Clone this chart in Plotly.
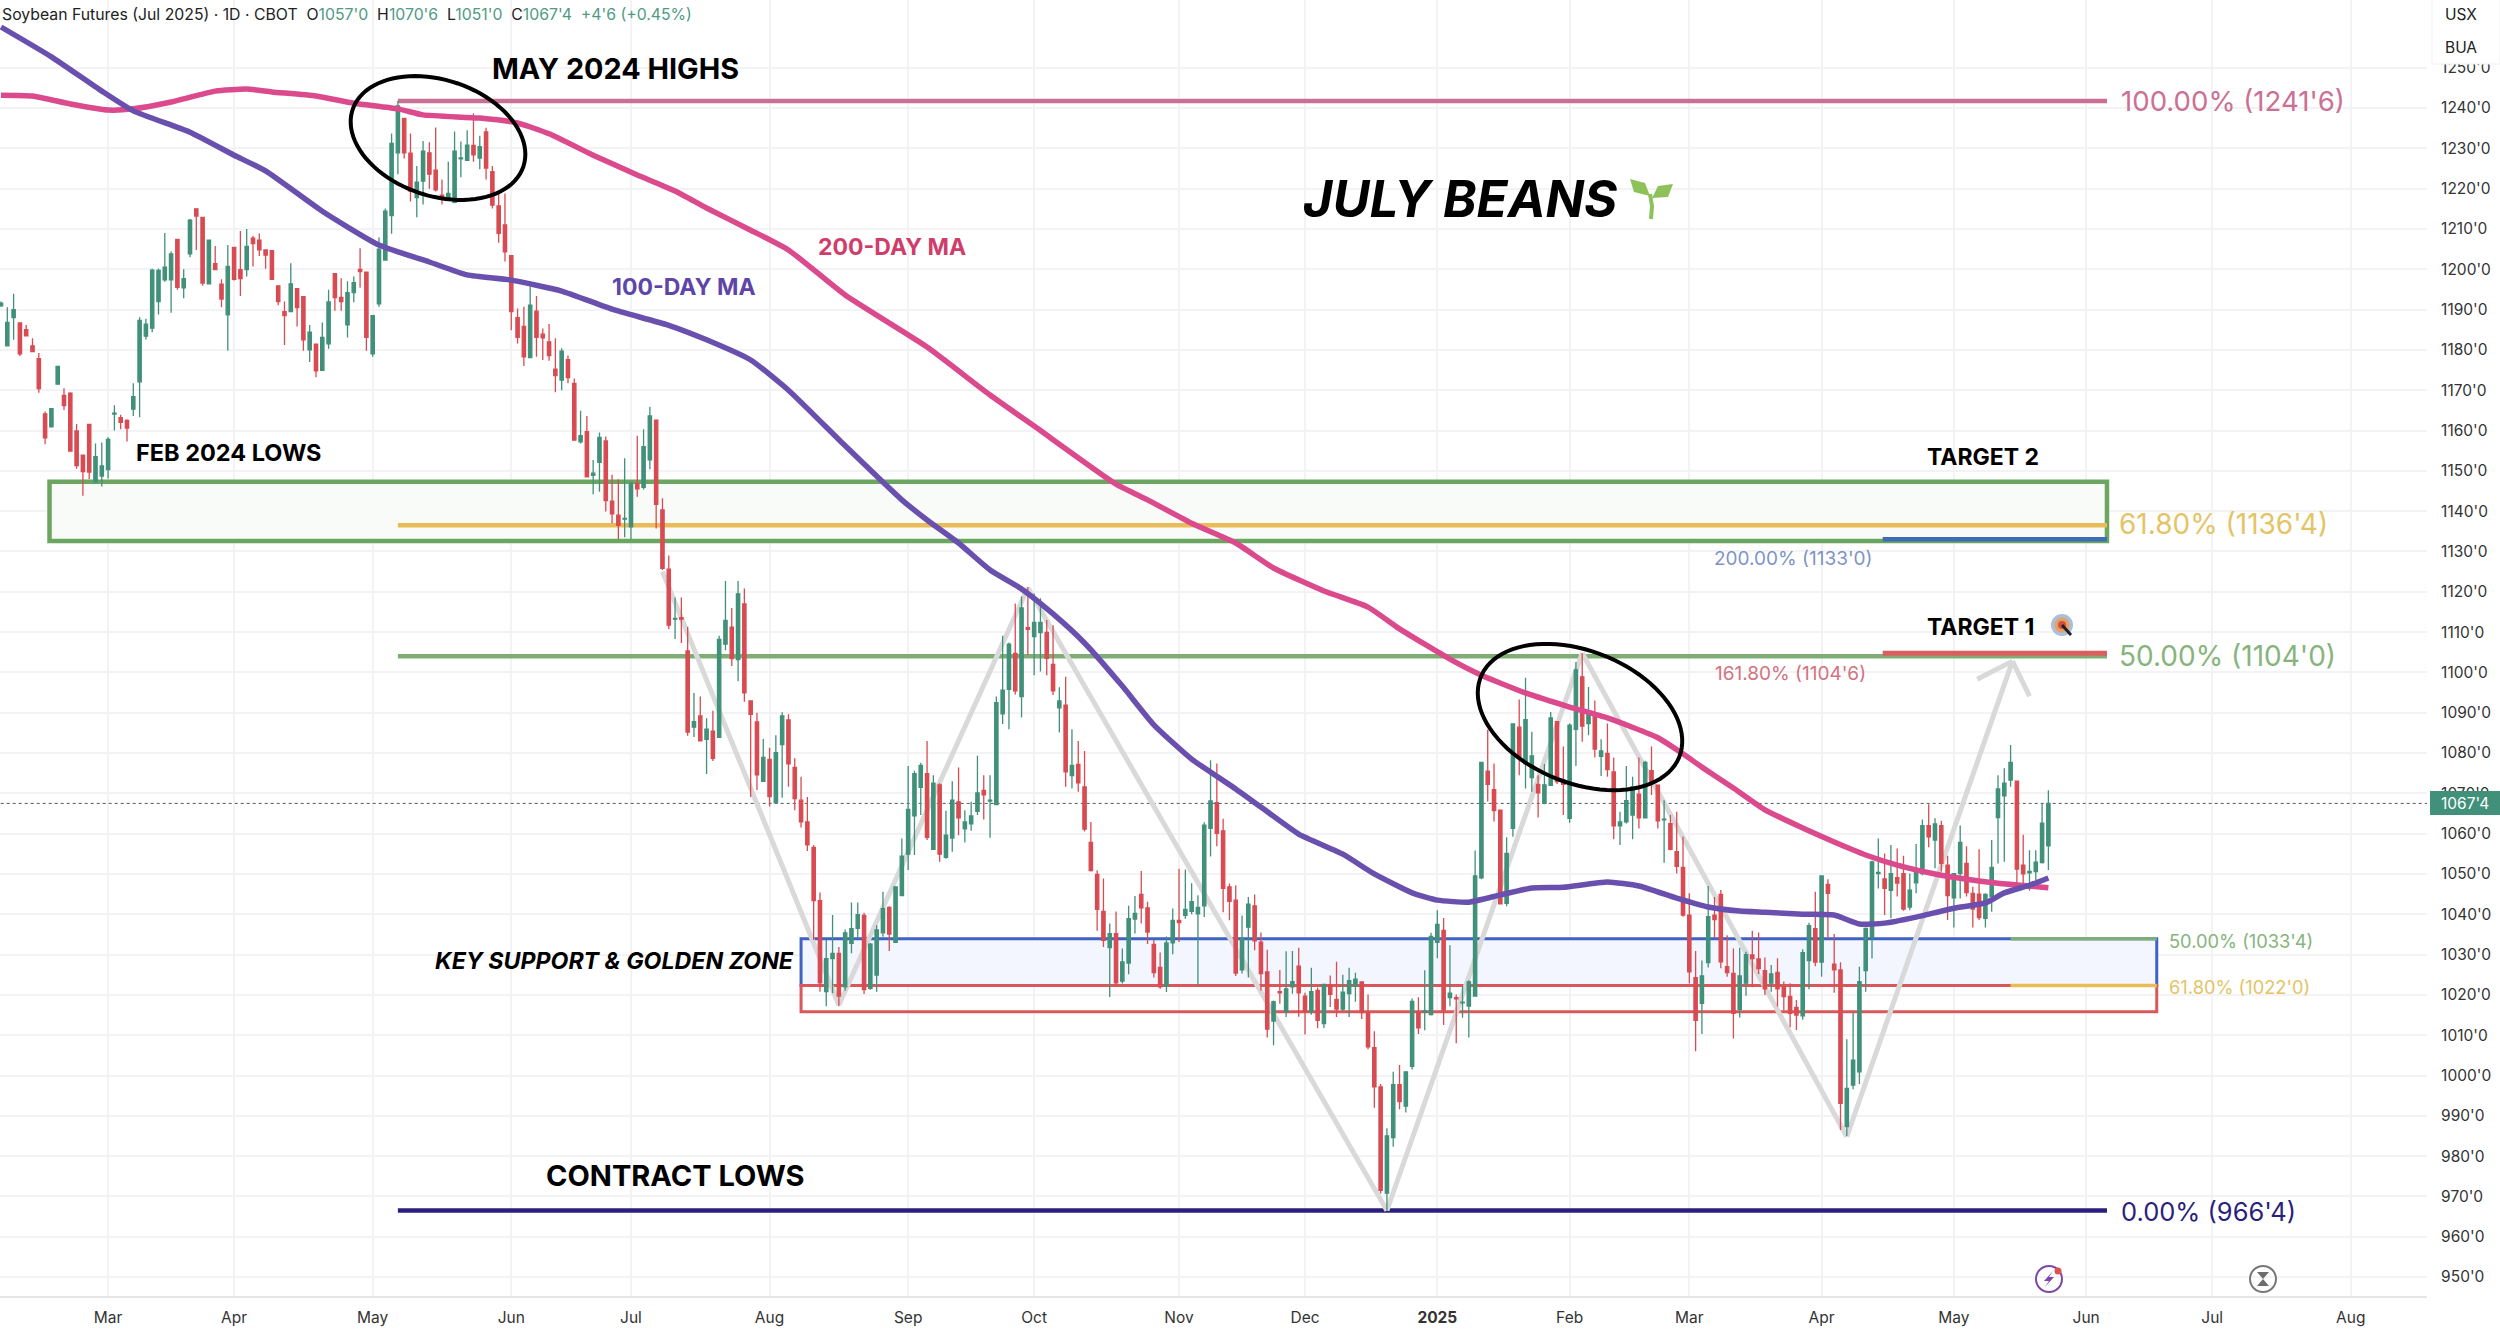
import numpy as np
import pandas as pd
import plotly.graph_objects as go

# daily bars, in cents (ticks as decimals)
opens = [
    1190.9,1181,1188,1186.7,1185,1181,1177.8,1164.1,1160.9,1171.5,
    1168.7,1169.3,1159.9,1153.9,1161.5,1147.3,1148.7,1150.3,1164.1,1163.2,
    1162.5,1165.3,1172.1,1183.4,1185.4,1192,1197.4,1197.4,1207.4,1195.4,
    1203.8,1215,1212.9,1196.4,1201.4,1196.3,1188.7,1205.4,1199.9,1199.9,
    1207.7,1207.2,1204.8,1204.6,1195.9,1189.5,1189.5,1195.2,1193.2,1180,
    1181.4,1174.9,1181.5,1198.9,1193,1186.2,1194.2,1200,1199.3,1179,
    1191.4,1202.3,1213.3,1228.9,1237.4,1228.8,1217.8,1221.9,1228.9,1224.6,
    1218.4,1217.6,1216.6,1227.4,1227,1230.7,1227.6,1234.1,1224.2,1215.7,
    1211,1203.4,1188,1185.8,1178.1,1189.6,1183.9,1182,1175.2,1172.5,
    1177.6,1171.7,1157.2,1159.7,1148.9,1152.1,1157.4,1142.5,1139,1138,
    1136.1,1146.9,1145.9,1152.7,1162.6,1140.3,1125.6,1113.2,1113.6,1105.3,
    1086.4,1089.2,1083.4,1085.4,1083.9,1107,1111.2,1103.2,1117,1092.9,
    1087.7,1073,1078.4,1067.7,1082.1,1088.2,1076.4,1068.3,1062.9,1056.6,
    1043.4,1020.8,1029,1030.3,1022,1032.8,1036.5,1039.7,1021.6,1024.9,
    1035.4,1041.7,1033,1044.6,1054.9,1064.4,1071.5,1074.9,1056.1,1072.1,
    1054.1,1058.9,1067.9,1061.2,1062.4,1065.5,1070.7,1068.1,1067.2,1089.7,
    1095.8,1104.7,1094,1111.1,1108.9,1109.9,1109.9,1102,1091.2,1091.9,
    1074.4,1077.2,1071.6,1057.8,1049.9,1040.7,1031.7,1035.2,1023.4,1027.9,
    1038.8,1044.9,1041.6,1032.5,1026.8,1022.1,1032.9,1038.5,1039.7,1040.7,
    1040.1,1042.1,1061.3,1067.7,1060.7,1046.8,1043.5,1026.2,1036.8,1042.1,
    1033.1,1025.7,1013.5,1020.8,1015.8,1022,1027.1,1019.7,1015.8,1021.1,
    1012.9,1022.4,1018.9,1016.5,1020.3,1022.1,1023.2,1015.6,1006.9,997.2,
    970.8,984.6,997.7,992.4,1002.3,1015.8,1015.7,1015.1,1033,1036,
    1019.3,1019.3,1018,1017.2,1019.7,1049,1075.5,1070.9,1065.8,1042.7,
    1061.3,1086.4,1077.3,1073.9,1072.2,1067.5,1072,1087.8,1073.3,1063.8,
    1085.9,1098.9,1087.3,1089.4,1079.2,1079.9,1075.3,1061.9,1062.9,1064.6,
    1069.8,1063.9,1075.6,1072,1063.4,1062.5,1055.5,1051.6,1039.8,1024.3,
    1017.9,1028,1039.8,1044.9,1027,1025.3,1016.4,1022.9,1029.9,1028.9,
    1026,1022.9,1025.6,1022,1019.6,1016.9,1014.8,1028.5,1036.4,1028.1,
    1047.4,1027.6,1026.2,987.3,997.6,1000.9,1026,1034.3,1050.1,1048.8,
    1045.9,1049.1,1050.1,1041.8,1047.8,1050.1,1062,1058.4,1062,1052.2,
    1044.1,1050.1,1052.6,1045.2,1045,1039,1044.4,1064,1069.4,1073.3,
    1073,1052.2,1050.3,1050.6,1052.8,1057,
]
highs = [
    1192,1190.6,1193.9,1186.7,1186.2,1182.9,1179.2,1164.7,1165.4,1175.9,
    1170.5,1169.5,1161.6,1153.9,1161.5,1156.8,1157,1158.3,1166.3,1163.9,
    1162.8,1171.7,1188.1,1187.7,1200.1,1200.2,1209,1204.4,1207.4,1200,
    1212.5,1215,1212.9,1207.2,1205.8,1197.5,1206,1205.4,1209.5,1210,
    1208.3,1208.9,1204.8,1204.8,1195.9,1192,1201.5,1195.2,1193.2,1186.2,
    1181.4,1186.8,1194.9,1198.9,1197.8,1197,1198.2,1205.2,1199.4,1188.5,
    1207.9,1215.1,1233.7,1241.75,1237.4,1233.7,1225.6,1231.8,1231.5,1235.2,
    1222.3,1226.7,1234.2,1231.7,1234.5,1238.7,1233.1,1235.1,1225.6,1218.8,
    1218.8,1203.4,1190.3,1190.7,1195.7,1193.4,1185.3,1186.4,1182.9,1180.4,
    1178.6,1172.9,1164.9,1163.6,1152.7,1159.5,1158.5,1149,1147.9,1153.1,
    1147.3,1158.7,1160.3,1165.9,1162.6,1143.2,1129,1118.6,1118.6,1111.3,
    1094.9,1094,1088.6,1090.5,1109.1,1122.7,1116,1122.7,1120.8,1092.9,
    1090,1083.5,1081.3,1084.4,1090.1,1089.6,1078.7,1074.1,1069.1,1057.2,
    1045.4,1033.6,1039.8,1031.9,1036.2,1042.9,1042.9,1040.4,1032.9,1037.3,
    1045.6,1042,1046.8,1058.8,1076.8,1075.6,1077.6,1083,1074.5,1072.5,
    1065.7,1073,1076.4,1065.8,1067.9,1079.3,1074.5,1074.5,1094,1109.1,
    1107.4,1117.1,1118.8,1121.2,1119.6,1118.4,1113,1111.7,1096.3,1098.9,
    1085.9,1083,1080.5,1062.9,1050.9,1048.9,1037.7,1040.7,1031.5,1042.1,
    1044.5,1050.7,1043.1,1033.7,1030.5,1034.5,1041.4,1051.3,1051.1,1047.7,
    1044.7,1062.8,1078.2,1077.4,1063.7,1047.6,1047.2,1039.7,1044.3,1044.9,
    1035.5,1031.2,1018.6,1026.2,1030.8,1030.9,1031.7,1020.5,1026.7,1021.8,
    1022.6,1024.8,1028.2,1025,1026.7,1025.5,1023.4,1020.1,1011,997.9,
    986.9,1000.9,1002.6,1001,1019.1,1019.4,1026.1,1035.4,1041,1039.1,
    1032.3,1020.1,1022.2,1023.6,1055.8,1077.7,1085.8,1077.4,1065.8,1059.1,
    1087.3,1093.3,1098.7,1085.3,1074.5,1077.3,1090.2,1087.8,1081.6,1087.3,
    1102.6,1104.75,1096.4,1093,1083.4,1087.3,1078.9,1065.4,1076.8,1074.1,
    1078.9,1078.1,1081.6,1072,1068.3,1064.6,1065.4,1059.2,1045.2,1030.9,
    1028.5,1047,1044.3,1046,1034.8,1031.5,1031.7,1030.7,1035.9,1035.5,
    1029.3,1027.4,1029.1,1023.3,1022.9,1018.7,1031.3,1037.9,1045.6,1049.7,
    1048.7,1035.1,1028.1,1009,1015.6,1027,1036.7,1053.3,1058.8,1055.1,
    1057.2,1056.3,1054.5,1050.1,1057.4,1063.5,1067.3,1063.8,1063.2,1054.5,
    1050.1,1062,1056.9,1046.8,1056.1,1045.2,1058.4,1074.5,1076.2,1082,
    1073,1059.7,1055.9,1055.9,1067.5,1070.75,
]
lows = [
    1190.7,1181,1182.5,1178.5,1183.3,1179.6,1169.4,1156.6,1160.9,1171.5,
    1165.1,1154.9,1150.5,1143.8,1147.9,1146.9,1146.1,1148.1,1160,1160.3,
    1157.3,1163.6,1163.3,1182.6,1184.4,1188.8,1196.9,1189.2,1194.9,1192.8,
    1203,1204.8,1195.9,1196.4,1199.9,1190.6,1179.8,1197.2,1193.4,1198.2,
    1200.7,1203.3,1200.1,1197.4,1191.1,1181.2,1189.5,1185.8,1179.8,1177,
    1173.2,1174.9,1180.3,1189.7,1189.7,1183.1,1191.8,1195.4,1179.8,1178.3,
    1190.7,1202.3,1208.8,1223.6,1227.5,1216.8,1212.9,1216.1,1220,1219.3,
    1216.1,1217.6,1216.4,1222.8,1227,1226.7,1224.8,1222.3,1215.1,1206.6,
    1201.9,1184.9,1181.6,1176,1178.1,1178.3,1177.5,1177.3,1169.5,1170,
    1171.7,1157.5,1156.8,1148.4,1144.2,1144.8,1139.9,1137,1133,1133.5,
    1133,1143.6,1145.4,1150.4,1135.7,1125.4,1110.7,1108.3,1107.3,1084.3,
    1084,1083,1074.8,1078,1083.9,1105.5,1101.6,1097.8,1092.7,1069.1,
    1070.8,1072.8,1066.7,1067.7,1068.9,1071.6,1065.8,1061.5,1055.7,1033.6,
    1020.8,1017.2,1020.4,1017.2,1021,1030.3,1034,1020.2,1021.3,1020.8,
    1034.4,1030.9,1033,1044.6,1051,1054.7,1064.6,1058.4,1056.1,1053,
    1053.8,1055.5,1059.6,1057.8,1060.7,1064.6,1063.5,1059,1067.2,1087.2,
    1085.9,1094.5,1088.8,1104.3,1099.3,1100.2,1099.3,1094.4,1085.1,1071.6,
    1071.2,1070.4,1060.5,1050.6,1035.9,1031.9,1019.5,1022.1,1022.8,1025.1,
    1035.2,1037.7,1032.6,1024.3,1021.5,1020.7,1030.1,1033.1,1038.9,1040,
    1022.4,1039.3,1054.3,1056.9,1040.5,1038.5,1024.7,1025.3,1024.3,1031.1,
    1021.1,1009.4,1007.5,1017.8,1014.5,1020.3,1014.6,1010.2,1015.1,1011.7,
    1011.8,1017,1014.5,1016,1014.5,1018.3,1014,1006.5,992,970.7,
    966.5,982.3,991.6,990.8,1001.5,1010.3,1011.2,1014.9,1029.1,1012.5,
    1017.2,1008,1014.3,1009.4,1019.6,1048.7,1068,1063,1042.5,1042,
    1059.2,1074.5,1071.2,1070.4,1064,1067.3,1071.9,1072.3,1064.6,1062.7,
    1076.8,1082.8,1084.4,1078.9,1074.3,1074.1,1058.6,1057.2,1062.5,1058.6,
    1061.3,1063.8,1069.6,1061.3,1052.8,1055.9,1050.1,1039.4,1022.8,1006,
    1010.3,1026.8,1034,1026.6,1024.5,1009.2,1014.4,1019.8,1021.9,1025.2,
    1020,1020.8,1017.1,1016.2,1012,1011.3,1013.8,1021.4,1027.1,1024.5,
    1034,1020.5,986.5,985,996.6,997.9,1020.8,1029,1046.4,1039.8,
    1039,1044.4,1040.9,1041,1045.2,1049.7,1056.6,1051.4,1050.6,1038.6,
    1036.7,1043.9,1044.4,1036.7,1038.6,1036.7,1040.6,1052.6,1053,1071.6,
    1047.7,1047.7,1045.8,1048.5,1052.6,1051,
]
closes = [
    1191.6,1186.8,1190,1179,1183.5,1179.6,1170.4,1158.2,1165.4,1175.9,
    1166.2,1154.9,1151.3,1149.8,1149.7,1153.5,1151.2,1157.8,1164.3,1162,
    1160.6,1168.4,1187.3,1186.4,1199.8,1199.7,1200.5,1203.8,1195.5,1197.7,
    1212.2,1213.2,1196.6,1207.2,1199.9,1192.6,1200.7,1197.5,1197.7,1205.7,
    1206.4,1204.8,1203.5,1197.5,1192,1188.5,1196.4,1190.5,1182.5,1184.4,
    1174.8,1183.1,1191.9,1193,1192,1194.2,1196.7,1199.4,1183.1,1188.5,
    1205,1214.4,1231.2,1240.5,1228.9,1219.4,1221.6,1229.3,1223.6,1219.7,
    1217.6,1218.8,1229.3,1227.6,1230.8,1228.4,1230.4,1225.1,1215.9,1208.9,
    1204.3,1189.5,1183.1,1178.3,1191.1,1183.1,1183,1178.6,1173.6,1179.7,
    1173.1,1157.6,1158.7,1148.5,1149.4,1158.3,1142.6,1139.3,1136.5,1138.2,
    1146.9,1145.5,1156,1163.6,1141.7,1125.8,1111.7,1113.4,1113.2,1085.2,
    1087.8,1083,1085.9,1078.7,1108.2,1112.9,1103.4,1119.5,1094.9,1089.6,
    1074.6,1078.9,1069.2,1080.1,1089.2,1077.3,1068.7,1062.9,1057.2,1043.4,
    1023,1029,1030.3,1019.7,1035.4,1036.4,1039.9,1021.3,1032.6,1036.1,
    1041.4,1035.1,1046.8,1054.4,1066,1074.9,1076.9,1059.1,1072.5,1054.9,
    1059.6,1068.3,1063.9,1062.9,1064.4,1070.1,1069.6,1068.3,1092.5,1095.6,
    1107,1095.4,1116,1110.7,1112.4,1112.4,1103.5,1095.4,1092.9,1075.3,
    1076.9,1072.6,1061.1,1050.8,1041.2,1033.5,1035.2,1023,1028.2,1038.9,
    1040.2,1041.6,1035.6,1025.5,1022,1032.9,1038.5,1037.9,1041.2,1043.1,
    1041.7,1062.1,1068.1,1060.1,1046.4,1043.2,1025.4,1034.1,1042.5,1033.4,
    1025.3,1011.5,1018.3,1020.5,1021.5,1023.3,1020.5,1016,1020.8,1013.7,
    1022.6,1020.1,1016.5,1020.7,1023.5,1023.9,1015.6,1007.1,997.2,971.5,
    985,997.7,993.5,1000.9,1018.4,1011.8,1016,1034.5,1037.5,1016.3,
    1020.4,1019,1018.2,1023.2,1049.5,1077.7,1072.2,1065.7,1042.6,1055.1,
    1087.2,1079.1,1088.3,1079.3,1070.1,1072.1,1088.7,1072.9,1072.2,1086.9,
    1100.6,1086.7,1090.1,1081,1080.5,1075.9,1061.9,1062.9,1068.2,1071.6,
    1063.9,1077.7,1072.6,1063.2,1063.6,1056.1,1051.9,1039.8,1025.7,1013.7,
    1024.7,1039.4,1038.7,1028.2,1025.5,1015.4,1024.7,1030,1029,1026.5,
    1021.5,1025.2,1021.5,1019.6,1015.4,1015,1030.5,1037.2,1028.1,1049.5,
    1045.2,1026.2,993.1,996.8,1003.8,1023.3,1036.5,1053,1050.4,1046.4,
    1050.1,1047.7,1041.3,1046,1051,1062,1059.2,1062.4,1052.6,1044.6,
    1050.1,1057.8,1045.4,1041.3,1039.2,1044.9,1051.6,1071.1,1072.5,1077.7,
    1051.2,1050,1050.6,1052.9,1062.6,1067.5,
]
assert len(opens) == len(highs) == len(lows) == len(closes)

# moving averages, sampled where they could be read (bar number, price)
ma100_bars = [0,8,16,21,30,37,42,51,60,68,74,81,89,97,106,112,119,125,134,143,147,152,157,162,167,172,178,183,189,196,200,206,213,218,224,228,233,238,243,248,255,260,266,271,276,280,286,291,295,299,304,310,315,318,322,325]
ma100_vals = [1260.1,1252.7,1244.2,1239.3,1234,1228.3,1224.4,1214.4,1206,1201.8,1198.6,1197.3,1194.6,1190.1,1186.1,1182.5,1177.5,1170,1156.2,1142.8,1137.8,1132.1,1125.4,1120.7,1114.5,1107.3,1096.6,1087,1078.5,1071.1,1066.6,1059.9,1054.9,1050,1045.3,1043.5,1043,1044.8,1046.5,1046.7,1048,1047,1044,1041.8,1040.8,1040.5,1040,1039.8,1037.6,1037.8,1039.3,1041.5,1042.8,1045.3,1047.2,1049]
ma200_bars = [0,5,11,17,21,27,34,39,43,50,56,63,67,76,82,87,94,101,107,112,119,125,134,147,157,164,177,182,189,196,202,210,217,222,230,235,242,249,255,263,267,270,275,280,286,291,296,301,307,312,317,325]
ma200_vals = [1243.2,1243,1241,1239.5,1239.8,1241.5,1244.2,1244.7,1244,1243,1241.2,1239.8,1238.3,1237.5,1236.3,1233.6,1228.3,1223.4,1219.4,1215.2,1209.7,1204.8,1193.6,1180.7,1168.8,1161.1,1146.7,1142.8,1137,1132.1,1125.9,1120.2,1116.2,1110.8,1103.3,1099.3,1094.9,1091.4,1088.7,1083.8,1079.8,1076.5,1071.3,1065.9,1061.4,1057.9,1054.7,1052.2,1050,1048.7,1047.7,1046.6]

# hand drawn grey swing lines
zig_bars = [105,133,163,220,251,293,319.3]
zig_prices = [1125,1017.5,1121,966.5,1104.8,984.8,1102.8]
arrow_bars = [313.7,319.3,322]
arrow_prices = [1098.3,1102.8,1094.1]

# levels
fib_100, fib_618, fib_50, fib_0 = 1241.75, 1136.5, 1104, 966.5
target2_top, target2_bot, target2_ext = 1147.3, 1132.6, 1133
target1_ext = 1104.75
zone_top, zone_mid, zone_bot = 1033.9, 1022.3, 1015.8
last_close = 1067.5

# axis
holidays = ["2024-02-19","2024-03-29","2024-05-27","2024-06-19","2024-07-04","2024-09-02",
            "2024-11-28","2024-12-25","2025-01-01","2025-01-20","2025-02-17","2025-04-18",
            "2025-05-26","2025-06-19","2025-07-04"]
bar_dates = pd.bdate_range("2024-02-06", "2025-08-29").difference(pd.to_datetime(holidays))
month_dates = ["2024-03-01","2024-04-01","2024-05-01","2024-06-03","2024-07-01","2024-08-01","2024-09-03",
               "2024-10-01","2024-11-01","2024-12-02","2025-01-02","2025-02-03","2025-03-03","2025-04-01",
               "2025-05-01","2025-06-02","2025-07-01","2025-08-01"]
month_labels = ["Mar","Apr","May","Jun","Jul","Aug","Sep","Oct","Nov","Dec","<b>2025</b>","Feb","Mar","Apr","May","Jun","Jul","Aug"]
price_ticks = list(range(950, 1260, 10))

FONT = "Inter"
UP, DOWN = "#41907a", "#d84b52"
GRID = "#f3f3f5"
PLOT_W, PLOT_H = 2427, 1296

# picture pixels to paper coords, only for the drawn-on notes
def xp(px):
    return px / PLOT_W

def yp(py):
    return 1 - py / PLOT_H

bars = list(range(len(closes)))
tick_pos = [bar_dates.get_loc(pd.Timestamp(d)) for d in month_dates]

fig = go.Figure()
fig.add_trace(go.Candlestick(
    x=bars, open=opens, high=highs, low=lows, close=closes,
    increasing=dict(line=dict(color=UP, width=1.3), fillcolor=UP),
    decreasing=dict(line=dict(color=DOWN, width=1.3), fillcolor=DOWN),
    whiskerwidth=0, hovertext=[str(d.date()) for d in bar_dates[:len(bars)]],
))
fig.add_trace(go.Scatter(x=ma200_bars, y=ma200_vals, mode="lines", line=dict(color="#db4a8c", width=5.5, shape="spline", smoothing=0.5)))
fig.add_trace(go.Scatter(x=ma100_bars, y=ma100_vals, mode="lines", line=dict(color="#6a50ae", width=5.5, shape="spline", smoothing=0.5)))

shapes = []

def hline(x0, x1, y, color, width, dash=None):
    shapes.append(dict(type="line", xref="x", yref="y", x0=x0, x1=x1, y0=y, y1=y, layer="between",
                       line=dict(color=color, width=width, dash=dash)))

def box(x0, x1, y0, y1, color, fill, width):
    shapes.append(dict(type="rect", xref="x", yref="y", x0=x0, x1=x1, y0=y0, y1=y1, layer="between",
                       line=dict(color=color, width=width), fillcolor=fill))

# zones first so the level lines sit on them
box(7.7, 334.3, target2_bot, target2_top, "#6ba661", "#f9fbf8", 4.5)
box(127, 342.2, zone_mid, zone_top, "#3f62c6", "#f3f6fe", 3)
box(127, 342.2, zone_bot, zone_mid, "#d9585c", "rgba(0,0,0,0)", 3)

hline(63, 334.3, fib_100, "#cb7095", 4.5)
hline(63, 334.3, fib_618, "#e9bc58", 4.5)
hline(63, 334.3, fib_50, "#7fae75", 4.5)
hline(63, 334.3, fib_0, "#2b1f7d", 4.5)
hline(298.7, 334.3, target2_ext, "#3f6db5", 4.5)
hline(298.7, 334.3, target1_ext, "#d9605f", 5)
hline(127, 319, zone_mid, "#d9585c", 3)
hline(319, 342.2, zone_top, "#7fae7d", 3.5)
hline(319, 342.2, zone_mid, "#e9bc58", 3.5)
hline(-1, 386, last_close, "#555555", 1, "dot")

for i in range(len(zig_bars) - 1):
    shapes.append(dict(type="line", xref="x", yref="y", layer="between",
                       x0=zig_bars[i], x1=zig_bars[i + 1], y0=zig_prices[i], y1=zig_prices[i + 1],
                       line=dict(color="#d9d9d9", width=5)))
for i in range(len(arrow_bars) - 1):
    shapes.append(dict(type="line", xref="x", yref="y", layer="between",
                       x0=arrow_bars[i], x1=arrow_bars[i + 1], y0=arrow_prices[i], y1=arrow_prices[i + 1],
                       line=dict(color="#d9d9d9", width=5)))

# black circles drawn by hand on the chart
def ellipse_path(cx, cy, a, b, deg):
    t = np.linspace(0, 2 * np.pi, 90)
    th = np.radians(deg)
    ex = cx + a * np.cos(t) * np.cos(th) - b * np.sin(t) * np.sin(th)
    ey = cy + a * np.cos(t) * np.sin(th) + b * np.sin(t) * np.cos(th)
    pts = [f"{xp(u):.5f},{yp(v):.5f}" for u, v in zip(ex, ey)]
    return "M " + " L ".join(pts) + " Z"

for e in [(438, 138, 90, 58, 18.4), (1580, 717, 107, 66, 22)]:
    shapes.append(dict(type="path", xref="paper", yref="paper", path=ellipse_path(*e), line=dict(color="black", width=4)))

def circle(cx, cy, r, color=None, fill=None, width=2):
    shapes.append(dict(type="circle", xref="paper", yref="paper", x0=xp(cx - r), x1=xp(cx + r), y0=yp(cy + r), y1=yp(cy - r),
                       line=dict(color=color or "rgba(0,0,0,0)", width=width), fillcolor=fill or "rgba(0,0,0,0)"))

def poly(points, color=None, fill=None, width=2):
    d = "M " + " L ".join(f"{xp(u):.5f},{yp(v):.5f}" for u, v in points)
    shapes.append(dict(type="path", xref="paper", yref="paper", path=d,
                       line=dict(color=color or "rgba(0,0,0,0)", width=width), fillcolor=fill or "rgba(0,0,0,0)"))

# little icons
circle(2049, 1279, 13, "#7d45a8")
circle(2058, 1271, 3.5, None, "#d9534f", 0)
poly([(2053, 1271), (2044, 1281), (2049, 1281), (2045, 1287), (2054, 1277), (2049, 1277), (2053, 1271)], None, "#7d45a8", 0)
circle(2263, 1279, 13, "#777777")
poly([(2257, 1272), (2269, 1272), (2263, 1279), (2269, 1286), (2257, 1286), (2263, 1279), (2257, 1272)], None, "#6d6d6d", 0)
circle(2062, 625, 11, None, "#a9bfdc", 0)
circle(2062, 625, 7.5, None, "#e8a060", 0)
circle(2062, 625, 4, None, "#d2503f", 0)
poly([(2062, 625), (2071, 635)], "#222222", None, 3)
# seedling
poly([(1651, 219), (1652, 206), (1650, 194)], "#8fc15a", None, 4)
poly([(1650, 196), (1645, 183), (1630, 179), (1634, 192), (1650, 196)], None, "#8fc15a", 0)
poly([(1652, 198), (1658, 186), (1673, 184), (1668, 197), (1652, 198)], None, "#8fc15a", 0)

# price tag and unit box on the axis
shapes.append(dict(type="rect", xref="paper", yref="paper", x0=xp(2430), x1=xp(2500), y0=yp(815), y1=yp(791),
                   fillcolor="#41907a", line=dict(width=0)))
shapes.append(dict(type="rect", xref="paper", yref="paper", x0=xp(2432), x1=xp(2500), y0=yp(64), y1=yp(-2),
                   fillcolor="white", line=dict(color="#f2f2f2", width=1)))

annotations = []

def note(px, py, text, size, color="black", anchor="left"):
    annotations.append(dict(xref="paper", yref="paper", x=xp(px), y=yp(py), text=text, showarrow=False,
                            xanchor=anchor, yanchor="middle", font=dict(family=FONT, size=size, color=color)))

g = "#4f9a85"
note(0, 15, f"Soybean Futures (Jul 2025) · 1D · CBOT  O<span style='color:{g}'>1057'0</span>  H<span style='color:{g}'>1070'6</span>  "
            f"L<span style='color:{g}'>1051'0</span>  C<span style='color:{g}'>1067'4</span>  <span style='color:{g}'>+4'6 (+0.45%)</span>", 15.8, "#222222")
note(490, 68, "<b>MAY 2024 HIGHS</b>", 28.8)
note(134, 452, "<b>FEB 2024 LOWS</b>", 23.5)
note(610, 287, "<b>100-DAY MA</b>", 23, "#5e45a8")
note(816, 247, "<b>200-DAY MA</b>", 23, "#cf3e6a")
note(1301, 198, "<b><i>JULY BEANS</i></b>", 50.7)
note(433, 961, "<b><i>KEY SUPPORT &amp; GOLDEN ZONE</i></b>", 23.2)
note(544, 1175, "<b>CONTRACT LOWS</b>", 29)
note(1925, 457, "<b>TARGET 2</b>", 23)
note(1925, 627, "<b>TARGET 1</b>", 23)
note(2119, 101, "100.00% (1241'6)", 27.6, "#cb7095")
note(2117, 524, "61.80% (1136'4)", 28, "#e3c466")
note(2117, 656, "50.00% (1104'0)", 28, "#86b47c")
note(2119, 1211, "0.00% (966'4)", 25.5, "#2b1f7d")
note(1712, 558, "200.00% (1133'0)", 19, "#7f94c4")
note(1713, 673, "161.80% (1104'6)", 19, "#d4727f")
note(2167, 941, "50.00% (1033'4)", 18.3, "#86b47c")
note(2167, 987, "61.80% (1022'0)", 18.3, "#e3c466")
note(2465, 803, "1067'4", 15.5, "white", "center")
note(2443, 15, "USX", 15.5, "#222222")
note(2443, 48, "BUA", 15.5, "#222222")

fig.update_layout(
    width=2500, height=1332, margin=dict(l=0, r=73, t=0, b=36),
    paper_bgcolor="white", plot_bgcolor="white", showlegend=False,
    font=dict(family=FONT, color="#333333"), boxgap=0.25, shapes=shapes, annotations=annotations,
    xaxis=dict(range=[-0.16, 385.1], tickmode="array", tickvals=tick_pos, ticktext=month_labels,
               showgrid=True, gridcolor=GRID, gridwidth=1.5, zeroline=False, rangeslider=dict(visible=False),
               showline=True, linecolor="#e6e6e6", linewidth=2, ticks="outside", ticklen=6, tickcolor="white",
               tickfont=dict(size=15.5, color="#333333")),
    yaxis=dict(range=[945.3, 1266.8], side="right", tickmode="array", tickvals=price_ticks,
               ticktext=[f"{v}'0" for v in price_ticks], showgrid=True, gridcolor=GRID, gridwidth=1.5,
               zeroline=False, showline=False, ticks="outside", ticklen=10, tickcolor="white",
               tickfont=dict(size=15.5, color="#333333")),
)

fig.write_html("out.html", config=dict(displayModeBar=False), post_script="document.body.style.margin='0';")
